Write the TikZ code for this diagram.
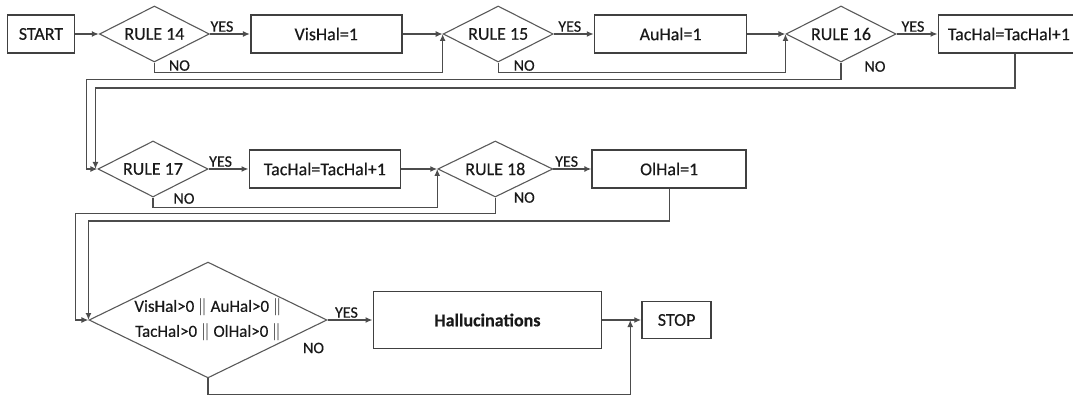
\documentclass[tikz,border=0pt]{standalone}
\usepackage{fontspec}
\setmainfont{Carlito}[FakeBold=0.4]
\usetikzlibrary{positioning,arrows.meta,shapes.geometric}

\begin{document}
\begin{tikzpicture}[
    x=1pt, y=1pt,
    font=\fontsize{18}{21}\selectfont,
    box/.style={draw=black!75, line width=1.7pt, minimum height=38pt, inner sep=2pt, text=black!90},
    rule/.style={diamond, draw=black!65, line width=1.1pt, aspect=2, inner sep=0pt, minimum width=110pt, minimum height=56pt, text=black!90},
    arrow/.style={-{Latex[length=7pt,width=6pt]}, line width=1.4pt, draw=black!70},
    lbl/.style={font=\fontsize{16}{18}\selectfont, text=black!90, inner sep=1.5pt}
]
\useasboundingbox (0,0) rectangle (1073,-398);
% first row
\node[box, minimum width=67pt] (start) at (41,-34) {START};
\node[rule, right=23.5pt of start] (r14) {RULE 14};
\node[box, minimum width=151pt, right=40pt of r14] (vis) {VisHal=1};
\node[rule, right=40pt of vis] (r15) {RULE 15};
\node[box, minimum width=152pt, right=40pt of r15] (au) {AuHal=1};
\node[rule, right=38pt of au] (r16) {RULE 16};
\node[box, minimum width=141pt, right=41pt of r16] (tac1) {TacHal=TacHal+1};
% second row
\node[rule] (r17) at (153,-169) {RULE 17};
\node[box, minimum width=151pt, right=40pt of r17] (tac2) {TacHal=TacHal+1};
\node[rule, minimum width=115pt, right=36pt of tac2] (r18) {RULE 18};
\node[box, minimum width=154pt, right=38pt of r18] (ol) {OlHal=1};
% third row
\node[rule, minimum width=238pt, minimum height=115pt, align=center,
      font=\fontsize{17}{25}\selectfont] (cond) at (208,-320)
      {VisHal>0 $\|$ AuHal>0 $\|$\\TacHal>0 $\|$ OlHal>0 $\|$};
\node[box, minimum width=228pt, minimum height=57pt, right=45pt of cond, font=\fontsize{18}{21}\selectfont\bfseries] (hal) {Hallucinations};
\node[box, minimum width=69pt, minimum height=37pt, right=39pt of hal] (stop) {STOP};
\coordinate (m) at ([xshift=-11pt]stop.west);

% connectors
\draw[arrow] (start) -- (r14);
\draw[arrow] (r14) -- node[lbl, above, pos=0.3] {YES} (vis);
\draw[arrow] (vis) -- (r15);
\draw[arrow] (r14.south) -- ++(0,-10) -| (r15.west);
\draw[arrow] (r15) -- node[lbl, above, pos=0.4] {YES} (au);
\draw[arrow] (au) -- (r16);
\draw[arrow] (r15.south) -- ++(0,-10) -| (r16.west);
\draw[arrow] (r16) -- node[lbl, above, pos=0.4] {YES} (tac1);
\draw[arrow] (r16.south) -- ++(0,-17) -| ([xshift=-11pt]r17.west) -- (r17.west);
\draw[arrow] ([xshift=6pt]tac1.south) -- ++(0,-34) -| ([xshift=-2pt]r17.west);
\draw[arrow] (r17) -- node[lbl, above, pos=0.3] {YES} (tac2);
\draw[arrow] (tac2) -- (r18);
\draw[arrow] (r17.south) -- ++(0,-10) -| (r18.west);
\draw[arrow] (r18) -- node[lbl, above, pos=0.35] {YES} (ol);
\draw[arrow] (r18.south) -- ++(0,-16) -| ([xshift=-13pt]cond.west) -- (cond.west);
\draw[arrow] (ol.south) -- ++(0,-32) -| (cond.west);
\draw[arrow] (cond) -- node[lbl, above, pos=0.42] {YES} (hal);
\draw[arrow] (hal) -- (stop);
\draw[arrow] (cond.south) -- ++(0,-16) -| (m);

\node[lbl] at ([xshift=25pt,yshift=-3pt]r14.south) {NO};
\node[lbl] at ([xshift=26pt,yshift=-3pt]r15.south) {NO};
\node[lbl] at ([xshift=34pt,yshift=-4pt]r16.south) {NO};
\node[lbl] at ([xshift=31pt,yshift=-1pt]r17.south) {NO};
\node[lbl] at ([xshift=29pt,yshift=0pt]r18.south) {NO};
\node[lbl] at ([xshift=-14pt,yshift=-28pt]cond.east) {NO};
\end{tikzpicture}
\end{document}
